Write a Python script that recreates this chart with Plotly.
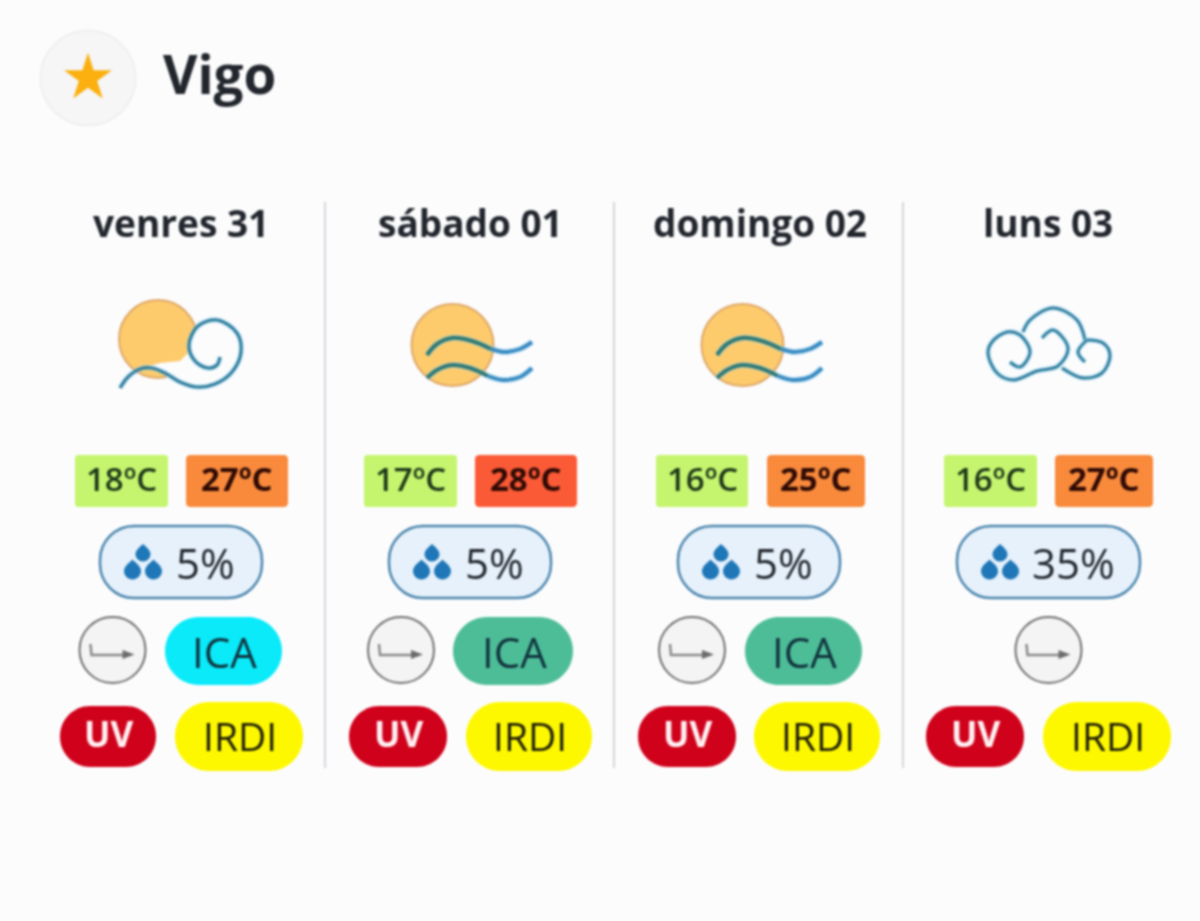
import plotly.graph_objects as go

# --- data ---
city = "Vigo"
days = ["venres 31", "sábado 01", "domingo 02", "luns 03"]
temp_min = [18, 17, 16, 16]
temp_max = [27, 28, 25, 27]
precip = [5, 5, 5, 35]
sky = ["sun_cloud", "sun_wind", "sun_wind", "cloud"]
ica_shown = [True, True, True, False]
ica_tone = ["cyan", "green", "green", None]
max_tone = ["orange", "red", "orange", "orange"]

# --- styles ---
BG = "#fcfcfd"
INK = "#22262d"
TONES = {"cyan": "#0aeaf9", "green": "#4dbd98", "orange": "#f98a3c", "red": "#fb5a36"}
FONT = "Open Sans"

# --- layout of the cells (left, right pairs per column) ---
centers = [181, 470, 760, 1048]
dividers = [325, 614, 903]
min_box = [(75, 168), (364, 457), (656, 748), (944, 1037)]
max_box = [(186, 288), (475, 577), (767, 865), (1055, 1153)]
rain_box = [(100, 262), (389, 551), (678, 840), (957, 1140)]
wind_cx = [112.5, 401, 692, 1048.5]
ica_box = [(165, 282), (453, 573), (745, 862), None]
uv_box = [(60, 156), (349, 447), (638, 736), (926, 1024)]
irdi_box = [(175, 303), (466, 592), (754, 880), (1043, 1171)]

shapes, annos, traces = [], [], []


def rrect(x0, y0, x1, y1, r, fill, line=None, lw=0):
    k = 0.55 * r
    p = (f"M{x0+r},{y0} L{x1-r},{y0} C{x1-r+k},{y0} {x1},{y0+r-k} {x1},{y0+r} "
         f"L{x1},{y1-r} C{x1},{y1-r+k} {x1-r+k},{y1} {x1-r},{y1} "
         f"L{x0+r},{y1} C{x0+r-k},{y1} {x0},{y1-r+k} {x0},{y1-r} "
         f"L{x0},{y0+r} C{x0},{y0+r-k} {x0+r-k},{y0} {x0+r},{y0} Z")
    shapes.append(dict(type="path", path=p, xref="x", yref="y", fillcolor=fill, layer="below",
                       line=dict(color=line or fill, width=lw)))


def circle(cx, cy, r, fill, line=None, lw=0):
    shapes.append(dict(type="circle", xref="x", yref="y", x0=cx-r, x1=cx+r, y0=cy-r, y1=cy+r,
                       fillcolor=fill, layer="below", line=dict(color=line or fill, width=lw)))


def text(x, y, s, size, color=INK, weight=400, anchor="center", family=FONT):
    annos.append(dict(x=x, y=y, xref="x", yref="y", text=s, showarrow=False, xanchor=anchor,
                      yanchor="middle", font=dict(family=family, size=size, color=color, weight=weight)))


def curve(ox, oy, pts, color, width=3.0):
    for col, w in (("rgba(140,210,240,0.35)", width + 3), (color, width)):
        traces.append(go.Scatter(x=[ox + p[0] for p in pts], y=[oy + p[1] for p in pts], mode="lines",
                                 line=dict(color=col, width=w, shape="spline", smoothing=1.0),
                                 hoverinfo="skip", showlegend=False))


def drop(cx, cy, r, color):
    k = r * 0.55
    p = (f"M{cx},{cy-1.35*r} C{cx+0.35*r},{cy-1.0*r} {cx+r},{cy-k} {cx+r},{cy} "
         f"C{cx+r},{cy+k} {cx+k},{cy+r} {cx},{cy+r} C{cx-k},{cy+r} {cx-r},{cy+k} {cx-r},{cy} "
         f"C{cx-r},{cy-k} {cx-0.35*r},{cy-1.0*r} {cx},{cy-1.35*r} Z")
    shapes.append(dict(type="path", path=p, xref="x", yref="y", fillcolor=color, layer="below",
                       line=dict(color=color, width=0)))


SUN = "#fdcb6c"
SUN_EDGE = "#dfa868"
BLUE = "#33809f"


def icon_sun_cloud(cx):
    ox, oy = cx - 181, 0
    circle(ox + 158, 339, 39, SUN, SUN_EDGE, 2)
    # background mask where the curl and wave cover the sun
    shapes.append(dict(type="path", layer="below", xref="x", yref="y", fillcolor=BG, line=dict(width=0, color=BG),
                       path=f"M{ox+146},367 L{ox+160},363 L{ox+180},361 L{ox+189},352 L{ox+190},340 L{ox+197},328 L{ox+205},322 L{ox+245},320 "
                            f"L{ox+245},392 L{ox+172},392 L{ox+166},375 L{ox+155},369 Z"))
    curve(ox, oy, [(120, 388), (128, 377), (140, 369), (152, 368), (165, 373), (180, 382), (197, 387),
                   (215, 384), (232, 372), (241, 352), (237, 333), (217, 320), (198, 326), (189, 345),
                   (195, 361), (208, 368), (217, 365), (220, 357)], BLUE, 3.2)


def icon_sun_wind(cx):
    ox = cx - 470
    oy = 0
    circle(ox + 452.5, 345, 41, SUN, SUN_EDGE, 2)
    curve(ox, oy, [(427, 355), (437, 344), (452, 338), (472, 341), (491, 349)], "#2f7a78", 4)
    curve(ox, oy, [(491, 349), (505, 352), (520, 349), (532, 342)], "#3a8cc2", 4)
    curve(ox, oy, [(427, 378), (437, 370), (452, 365), (470, 368), (488, 376)], "#2f7a78", 4)
    curve(ox, oy, [(488, 376), (503, 380), (520, 377), (532, 368)], "#3a8cc2", 4)


def icon_cloud(cx):
    ox = cx - 1048
    curve(ox, 0, [(1010, 362), (1020, 367), (1030, 352), (1020, 335), (1007, 332), (992, 342), (988, 353),
                  (997, 373), (1013, 380), (1037, 371), (1058, 366), (1068, 348), (1053, 330), (1042, 338)], BLUE, 3)
    curve(ox, 0, [(1023, 332), (1030, 320), (1053, 308), (1077, 320), (1085, 340)], BLUE, 3)
    curve(ox, 0, [(1087, 340), (1103, 343), (1110, 355), (1102, 373), (1083, 378), (1062, 368)], BLUE, 3)
    curve(ox, 0, [(1087, 340), (1078, 352), (1085, 362)], BLUE, 3)


ICONS = {"sun_cloud": icon_sun_cloud, "sun_wind": icon_sun_wind, "cloud": icon_cloud}

# --- header ---
circle(88, 78, 47.5, "#f6f6f7", "#ececee", 1.5)
traces.append(go.Scatter(x=[88], y=[78], mode="markers", hoverinfo="skip", showlegend=False,
                         marker=dict(symbol="star", size=36, color="#fbb00f", line=dict(width=0))))
text(161, 73, city, 53, "#22262d", 700, "left")

# --- dividers ---
for x in dividers:
    shapes.append(dict(type="line", xref="x", yref="y", x0=x, x1=x, y0=202, y1=768, layer="below",
                       line=dict(color="#d4d6da", width=2)))

# --- columns ---
for i, c in enumerate(centers):
    text(c, 222, days[i], 37, INK, 700)
    ICONS[sky[i]](c)

    x0, x1 = min_box[i]
    rrect(x0, 455, x1, 507, 3, "#c5f56e")
    text((x0 + x1) / 2, 478.5, f"{temp_min[i]}ºC", 33, "#1c3618", 600)

    x0, x1 = max_box[i]
    rrect(x0, 455, x1, 507, 4, TONES[max_tone[i]])
    text((x0 + x1) / 2, 478.5, f"{temp_max[i]}ºC", 33, "#2e0a04", 700)

    x0, x1 = rain_box[i]
    rrect(x0, 526, x1, 598, 34, "#e6f1fb", "#4c86ad", 2.5)
    dx = x0 + 43
    drop(dx, 554, 7.5, "#1f77b8")
    drop(dx - 10.5, 571, 8.5, "#1f77b8")
    drop(dx + 10.5, 571, 8.5, "#1f77b8")
    tx = (dx + x1 - 10) / 2 + 8
    text(tx, 562, f"{precip[i]}%", 42, INK, 500)

    wx = wind_cx[i]
    circle(wx, 650, 33, "#f4f4f5", "#6f6f71", 2)
    traces.append(go.Scatter(x=[wx - 22, wx - 21, wx + 18], y=[644, 655, 655], mode="lines",
                             line=dict(color="#8a8a8c", width=2.5), hoverinfo="skip", showlegend=False))
    shapes.append(dict(type="path", layer="above", xref="x", yref="y", fillcolor="#6c6c6e", line=dict(width=0, color="#6c6c6e"),
                       path=f"M{wx+10},650 L{wx+22},654.5 L{wx+10},659 Z"))

    if ica_shown[i]:
        x0, x1 = ica_box[i]
        rrect(x0, 617, x1, 685, 34, TONES[ica_tone[i]])
        text((x0 + x1) / 2 + 1, 651, "ICA", 42, "#10323c", 500)

    x0, x1 = uv_box[i]
    rrect(x0, 706, x1, 767, 30, "#d0021b")
    text((x0 + x1) / 2, 733, "UV", 35, "#fff0f2", 700)

    x0, x1 = irdi_box[i]
    rrect(x0, 702, x1, 771, 34, "#fdf800")
    text((x0 + x1) / 2 + 1, 735, "IRDI", 39, "#1e1e06", 500)

fig = go.Figure(traces)
fig.update_layout(width=1200, height=921, margin=dict(l=0, r=0, t=0, b=0), autosize=False,
                  paper_bgcolor=BG, plot_bgcolor=BG, shapes=shapes, annotations=annos, showlegend=False,
                  xaxis=dict(range=[0, 1200], visible=False, fixedrange=True),
                  yaxis=dict(range=[921, 0], visible=False, fixedrange=True))
fig.write_html("out.html", config=dict(displayModeBar=False),
               post_script="document.body.style.margin='0';document.body.style.overflow='hidden';"
                           "document.body.style.background='%s';"
                           "document.body.style.filter='blur(0.8px)';" % BG)
